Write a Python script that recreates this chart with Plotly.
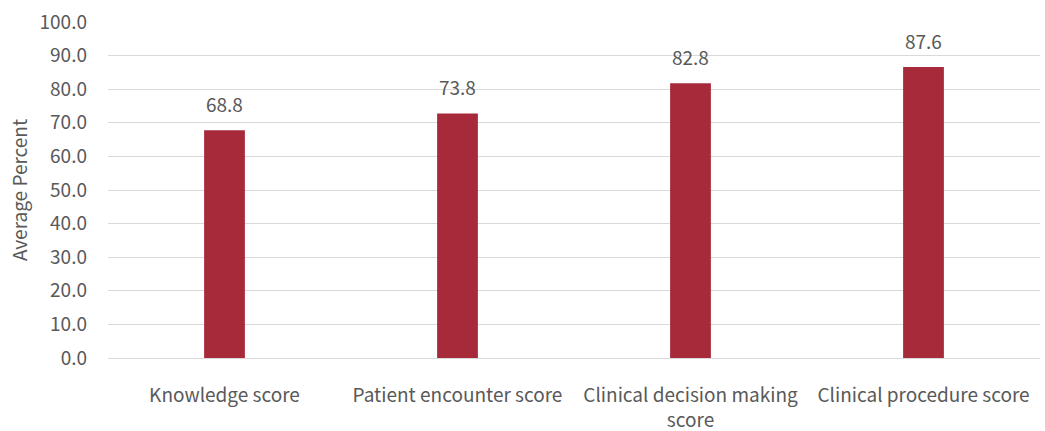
import plotly.graph_objects as go

categories = ["Knowledge score", "Patient encounter score",
              "Clinical decision making<br>score", "Clinical procedure score"]
bar_values = [67.8, 72.8, 81.8, 86.6]
label_values = ["68.8", "73.8", "82.8", "87.6"]
y_ticks = [0, 10, 20, 30, 40, 50, 60, 70, 80, 90, 100]

FONT = "Noto Sans CJK JP"
GRAY = "#595959"
FS = 19

fig = go.Figure(go.Bar(
    x=categories, y=bar_values,
    marker=dict(color="#A72A3B", line=dict(width=0)),
    width=0.175,
))
for c, v, t in zip(categories, bar_values, label_values):
    fig.add_annotation(x=c, y=v, text=t, showarrow=False, yanchor="bottom",
                       yshift=11, font=dict(family=FONT, size=FS, color=GRAY))
fig.update_layout(
    width=1045, height=431,
    margin=dict(l=108, r=5, t=22, b=73),
    paper_bgcolor="white", plot_bgcolor="white",
    font=dict(family=FONT, size=FS, color=GRAY),
    showlegend=False,
    xaxis=dict(showline=False, ticks="", ticklabelstandoff=24, automargin=False,
               tickfont=dict(size=FS, color=GRAY)),
    yaxis=dict(range=[0, 100], tickvals=y_ticks, automargin=False,
               ticktext=[f"{v:.1f}" for v in y_ticks],
               showgrid=True, gridcolor="#D9D9D9", gridwidth=1.3,
               zeroline=True, zerolinecolor="#D9D9D9", zerolinewidth=1.3,
               ticks="", ticklen=0, ticklabelstandoff=20,
               tickfont=dict(size=FS, color=GRAY),
               title=dict(text="Average Percent", standoff=6,
                          font=dict(size=FS, color=GRAY))),
)
fig.write_html("out.html")
